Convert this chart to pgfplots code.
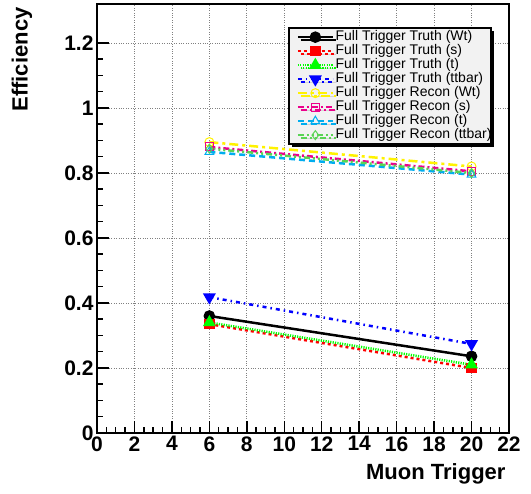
\documentclass[border=0pt]{standalone}
\usepackage{fontspec}
\setmainfont{Liberation Sans}
\usepackage{pgfplots}
\pgfplotsset{compat=1.18}
\usetikzlibrary{shadows}
\definecolor{rgreen}{rgb}{0.35,0.83,0.33}
\newcommand{\lf}[1]{\makebox[146pt][l]{\fontsize{14}{14}\selectfont #1}}

\begin{document}
\begin{tikzpicture}
\useasboundingbox (-97pt,-61pt) rectangle (434pt,433pt);
\begin{axis}[
  at={(0,0)}, anchor=south west,
  scale only axis, width=412pt, height=429pt,
  xmin=0, xmax=22, ymin=0, ymax=1.32,
  xtick={0,2,...,22},
  ytick={0,0.2,0.4,0.6,0.8,1,1.2},
  minor x tick num=3, minor y tick num=3,
  tick pos=left,
  major tick length=12pt, minor tick length=6pt,
  every tick/.style={black, line width=1.5pt},
  axis line style={line width=2.5pt},
  xmajorgrids, ymajorgrids,
  grid style={dotted, gray, line width=0.7pt},
  /pgf/number format/assume math mode=true,
  tick label style={font=\fontsize{21}{21}\selectfont\bfseries},
  xlabel={Muon Trigger}, ylabel={Efficiency},
  label style={font=\fontsize{22}{22}\selectfont\bfseries},
  x label style={at={(axis description cs:1,0)}, anchor=north east, yshift=-27pt},
  y label style={at={(axis description cs:-0.182,1)}, anchor=east},
  legend cell align=left,
  legend style={at={(0.959,0.946)}, anchor=north east,
    fill=gray!10, draw=black, line width=2pt,
    general shadow={fill=black, shadow xshift=3pt, shadow yshift=-3pt},
    row sep=0pt, inner xsep=8pt, inner ysep=2pt,
    nodes={inner sep=1.5pt, text height=8.5pt, text depth=2.5pt}},
  legend image code/.code={
    \draw[mark repeat=2,mark phase=2] plot coordinates {(0pt,0pt)(17.5pt,0pt)(35pt,0pt)};},
  mark size=4.5pt,
]
\addplot[black, line width=2.5pt, mark=*, mark options={solid}]
  coordinates {(6,0.360) (20,0.236)};
\addplot[red, line width=2.5pt, dash pattern=on 3pt off 3pt, mark=square*, mark options={solid}, mark size=4pt]
  coordinates {(6,0.335) (20,0.200)};
\addplot[green, line width=2.5pt, dash pattern=on 1.2pt off 1.2pt, mark=triangle*, mark options={solid}, mark size=5pt]
  coordinates {(6,0.340) (20,0.210)};
\addplot[blue, line width=2.5pt, dash pattern=on 4pt off 4pt on 1.5pt off 4pt, mark=triangle*, mark options={solid, rotate=180}, mark size=5pt]
  coordinates {(6,0.418) (20,0.274)};
\addplot[yellow, line width=2.5pt, dash pattern=on 9pt off 4pt on 3pt off 4pt, mark=o, mark options={solid, line width=1pt}]
  coordinates {(6,0.895) (20,0.820)};
\addplot[magenta, line width=2.5pt, dash pattern=on 6pt off 3pt on 2pt off 3pt, mark=square, mark options={solid, line width=1pt}, mark size=4pt]
  coordinates {(6,0.880) (20,0.805)};
\addplot[cyan, line width=2.5pt, dash pattern=on 6pt off 4pt, mark=triangle, mark options={solid, line width=1pt}, mark size=5pt]
  coordinates {(6,0.865) (20,0.795)};
\addplot[rgreen, line width=2.5pt, dash pattern=on 6pt off 3pt on 2pt off 3pt on 2pt off 3pt, mark=diamond, mark options={solid, line width=1pt}]
  coordinates {(6,0.875) (20,0.800)};
\legend{\lf{Full Trigger Truth (Wt)}, \lf{Full Trigger Truth (s)}, \lf{Full Trigger Truth (t)}, \lf{Full Trigger Truth (ttbar)},
  \lf{Full Trigger Recon (Wt)}, \lf{Full Trigger Recon (s)}, \lf{Full Trigger Recon (t)}, \lf{Full Trigger Recon (ttbar)}}
\end{axis}
\end{tikzpicture}
\end{document}
